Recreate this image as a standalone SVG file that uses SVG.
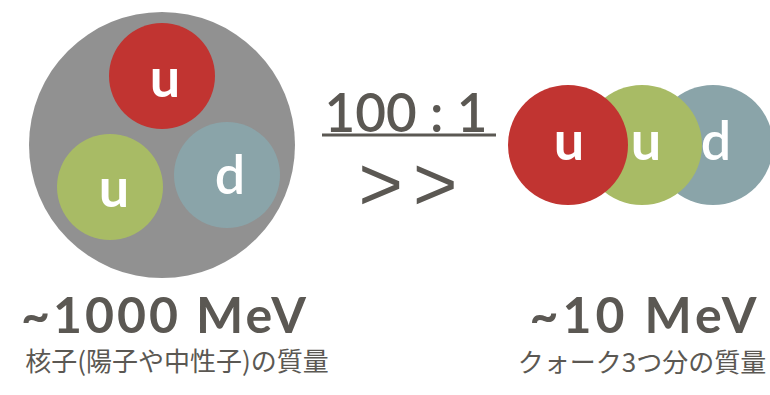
<svg xmlns="http://www.w3.org/2000/svg" width="770" height="395" viewBox="0 0 770 395">
<style>
.q{font-family:Lato,"Noto Sans",sans-serif;fill:#ffffff;text-anchor:middle;font-size:54px}
.b{font-weight:700}
.m{font-weight:600}
.t{font-family:Lato,"Noto Sans",sans-serif;fill:#5b5853;text-anchor:middle}
.jp{font-family:"Noto Sans CJK JP","Noto Sans",sans-serif;fill:#5b5853;text-anchor:middle;font-size:26px}
.red{fill:#c13431}.grn{fill:#a8bb65}.blu{fill:#8aa4a9}
</style>
<rect width="770" height="395" fill="#ffffff"/>
<g id="nucleon">
<circle cx="162" cy="145" r="133" fill="#919191"/>
<g id="n-u1"><circle class="red" cx="162" cy="76" r="53"/><text class="q b" x="165" y="97">u</text></g>
<g id="n-u2"><circle class="grn" cx="110" cy="187" r="53"/><text class="q b" x="114" y="207">u</text></g>
<g id="n-d"><circle class="blu" cx="227" cy="175" r="53"/><text class="q m" x="230" y="194">d</text></g>
</g>
<g id="ratio">
<text class="t" x="406" y="132" font-size="53" font-weight="600">100 : 1</text>
<line x1="322" y1="135" x2="496" y2="135" stroke="#5b5853" stroke-width="3"/>
<text x="413" y="210" font-family="'Liberation Sans',sans-serif" font-size="76" fill="#5b5853" text-anchor="middle" letter-spacing="10">&gt;&gt;</text>
</g>
<g id="quarks">
<g id="q-d"><circle class="blu" cx="713" cy="145" r="60"/><text class="q m" x="716" y="160">d</text></g>
<g id="q-u2"><circle class="grn" cx="642" cy="145" r="60"/><text class="q b" x="646" y="160">u</text></g>
<g id="q-u1"><circle class="red" cx="568" cy="145" r="60"/><text class="q b" x="569" y="160">u</text></g>
</g>
<g id="labels">
<text class="t" x="165" y="333" font-size="50" font-weight="700" letter-spacing="3">~1000 MeV</text>
<text class="jp" x="177" y="371">核子(陽子や中性子)の質量</text>
<text class="t" x="645" y="333" font-size="50" font-weight="700" letter-spacing="4">~10 MeV</text>
<text class="jp" x="642" y="372">クォーク3つ分の質量</text>
</g>
</svg>
